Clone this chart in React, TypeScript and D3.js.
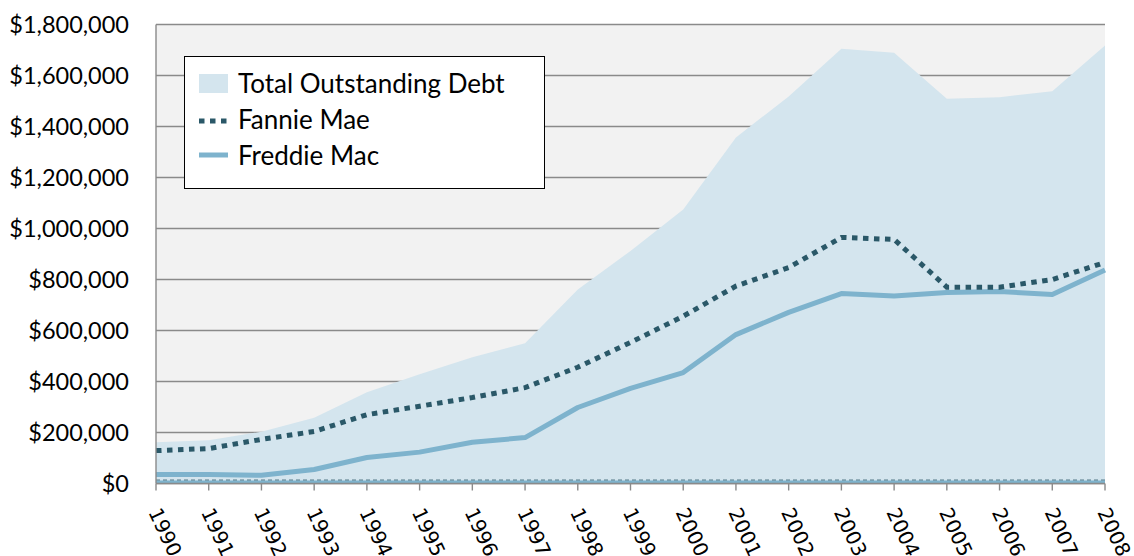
import * as d3 from "d3";

const YEARS = [
  1990, 1991, 1992, 1993, 1994, 1995, 1996, 1997, 1998, 1999,
  2000, 2001, 2002, 2003, 2004, 2005, 2006, 2007, 2008,
];

const TOTAL_DEBT = [
  162000, 170000, 203000, 258000, 358000, 428000, 495000, 550000, 761000, 912000,
  1075000, 1357000, 1518000, 1705000, 1689000, 1509000, 1515000, 1538000, 1718000,
];

const FANNIE_MAE = [
  129000, 137000, 173000, 204000, 270000, 303000, 337000, 376000, 456000, 553000,
  656000, 774000, 847000, 965000, 957000, 770000, 770000, 800000, 867000,
];

const FREDDIE_MAC = [
  35000, 35000, 32000, 55000, 102000, 123000, 162000, 180000, 298000, 373000,
  435000, 584000, 671000, 745000, 735000, 749000, 753000, 741000, 837000,
];

const Y_TICKS = [0, 200000, 400000, 600000, 800000, 1000000, 1200000, 1400000, 1600000, 1800000];

const LEGEND_ITEMS = ["Total Outstanding Debt", "Fannie Mae", "Freddie Mac"];

export default function App() {
  // layout
  const width = 1134;
  const height = 556;
  const plot = { left: 156, right: 1105, top: 24.5, bottom: 483.5 };

  const colors = {
    bg: "#f2f2f2",
    grid: "#8a8a8a",
    area: "#d4e5ee",
    fannie: "#2a5868",
    freddie: "#7eb3cd",
  };

  const x = d3.scalePoint<number>().domain(YEARS).range([plot.left, plot.right]);
  const y = d3.scaleLinear().domain([0, 1800000]).range([plot.bottom, plot.top]);

  const area = d3
    .area<number>()
    .x((_, i) => x(YEARS[i])!)
    .y0(y(0))
    .y1((d) => y(d));

  const line = d3
    .line<number>()
    .x((_, i) => x(YEARS[i])!)
    .y((d) => y(d));

  const fmt = (v: number) => "$" + d3.format(",")(v);

  const uiFont = "Lato, 'Noto Sans', sans-serif";
  const y0 = y(0);

  return (
    <svg
      width={width}
      height={height}
      style={{ position: "absolute", left: 0, top: 0, background: "#fff" }}
    >
      {/* plot background */}
      <rect
        x={plot.left}
        y={plot.top}
        width={plot.right - plot.left}
        height={plot.bottom - plot.top}
        fill={colors.bg}
      />

      {/* gridlines */}
      {Y_TICKS.map((t) => (
        <line
          key={t}
          x1={plot.left}
          x2={plot.right}
          y1={y(t)}
          y2={y(t)}
          stroke={colors.grid}
          strokeWidth={1.4}
        />
      ))}

      {/* total debt area */}
      <path d={area(TOTAL_DEBT)!} fill={colors.area} />

      {/* series lines along zero */}
      <line x1={plot.left} x2={plot.right} y1={y0 - 1.5} y2={y0 - 1.5} stroke={colors.freddie} strokeWidth={3} />
      <line
        x1={plot.left}
        x2={plot.right}
        y1={y0 - 3.5}
        y2={y0 - 3.5}
        stroke={colors.fannie}
        strokeWidth={1.2}
        strokeDasharray="4 3"
        opacity={0.75}
      />

      {/* Freddie Mac */}
      <path d={line(FREDDIE_MAC)!} fill="none" stroke={colors.freddie} strokeWidth={5} strokeLinejoin="round" />

      {/* Fannie Mae */}
      <path
        d={line(FANNIE_MAE)!}
        fill="none"
        stroke={colors.fannie}
        strokeWidth={5}
        strokeDasharray="5.5 5.5"
      />

      {/* axes */}
      <line x1={plot.left} x2={plot.left} y1={plot.top} y2={y0} stroke={colors.grid} strokeWidth={1.4} />
      <line x1={plot.left} x2={plot.right} y1={y0} y2={y0} stroke={colors.grid} strokeWidth={1.4} />
      {YEARS.map((yr) => (
        <line key={yr} x1={x(yr)} x2={x(yr)} y1={y0} y2={y0 + 7} stroke={colors.grid} strokeWidth={1.4} />
      ))}

      {/* y labels */}
      {Y_TICKS.map((t) => (
        <text
          key={t}
          x={129}
          y={y(t)}
          dy="0.36em"
          textAnchor="end"
          fontFamily={uiFont}
          fontSize={23.5}
          fill="#000"
        >
          {fmt(t)}
        </text>
      ))}

      {/* x labels */}
      {YEARS.map((yr) => (
        <text
          key={yr}
          transform={`translate(${x(yr)! - 8},${512}) rotate(65)`}
          fontFamily="'DejaVu Sans', sans-serif"
          fontSize={20}
          fill="#000"
        >
          {yr}
        </text>
      ))}

      {/* legend */}
      <g>
        <rect x={184.5} y={56.5} width={360} height={132} fill="#fff" stroke="#000" strokeWidth={1} />
        <rect x={199} y={74} width={29} height={19} fill={colors.area} />
        <line x1={199} x2={228} y1={121} y2={121} stroke={colors.fannie} strokeWidth={5} strokeDasharray="5.5 5.5" />
        <line x1={199} x2={228} y1={155} y2={155} stroke={colors.freddie} strokeWidth={5} />
        {LEGEND_ITEMS.map((label, i) => (
          <text key={label} x={238} y={93 + i * 36} fontFamily={uiFont} fontSize={26} fill="#000">
            {label}
          </text>
        ))}
      </g>
    </svg>
  );
}
